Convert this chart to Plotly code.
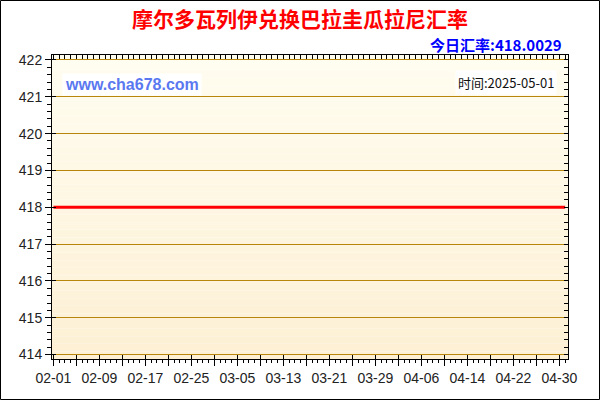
import pandas as pd
import plotly.graph_objects as go

# 摩尔多瓦列伊 -> 巴拉圭瓜拉尼, 2025-02-01 .. 2025-05-01 (daily)
start_date = "2025-02-01"
end_date = "2025-05-01"
rate_feb = [418.00, 418.00, 418.00, 418.00, 418.00, 418.00, 418.00, 418.00, 418.00, 418.00,
            418.00, 418.00, 418.00, 418.00, 418.00, 418.00, 418.00, 418.00, 418.00, 418.00,
            418.00, 418.00, 418.00, 418.00, 418.00, 418.00, 418.00, 418.00]
rate_mar = [418.00, 418.00, 418.00, 418.00, 418.00, 418.00, 418.00, 418.00, 418.00, 418.00,
            418.00, 418.00, 418.00, 418.00, 418.00, 418.00, 418.00, 418.00, 418.00, 418.00,
            418.00, 418.00, 418.00, 418.00, 418.00, 418.00, 418.00, 418.00, 418.00, 418.00,
            418.00]
rate_apr = [418.00, 418.00, 418.00, 418.00, 418.00, 418.00, 418.00, 418.00, 418.00, 418.00,
            418.00, 418.00, 418.00, 418.00, 418.00, 418.00, 418.00, 418.00, 418.00, 418.00,
            418.00, 418.00, 418.00, 418.00, 418.00, 418.00, 418.00, 418.00, 418.00, 418.00]
rate_may = [418.0029]

x_labels = ["02-01", "02-09", "02-17", "02-25", "03-05", "03-13",
            "03-21", "03-29", "04-06", "04-14", "04-22", "04-30"]

title_text = "摩尔多瓦列伊兑换巴拉圭瓜拉尼汇率"
today_text = "今日汇率:418.0029"
site_text = "www.cha678.com"
time_text = "时间:2025-05-01"

dates = pd.date_range(start_date, end_date, freq="D")
rates = rate_feb + rate_mar + rate_apr + rate_may

# major ticks every 4 days, only every 8th day gets a label
tick_pos = pd.date_range(start_date, "2025-04-30", freq="4D")
tick_txt = [d.strftime("%m-%d") if d.strftime("%m-%d") in x_labels else "" for d in tick_pos]

x_range = ["2025-01-31 18:00", "2025-05-01 12:00"]
y_range = [413.88, 422.135]

W, H = 600, 400
ML, MR, MT, MB = 52, 32, 55, 41
PW, PH = W - ML - MR, H - MT - MB

fig = go.Figure()

fig.add_trace(go.Scatter(
    x=dates, y=rates, mode="lines",
    line=dict(color="#ff0000", width=3),
    showlegend=False, hoverinfo="x+y"
))

# dummy traces so the overlay axes get drawn
for xa, ya in [("x2", "y"), ("x3", "y"), ("x", "y2"), ("x", "y3")]:
    fig.add_trace(go.Scatter(x=[dates[0]], y=[rates[0]], xaxis=xa, yaxis=ya,
                             mode="markers", marker=dict(opacity=0),
                             showlegend=False, hoverinfo="skip"))

# background gradient of the plot area
shapes = []
n = 40
top_c = (255, 253, 240)
bot_c = (253, 240, 212)
for i in range(n):
    t = i / (n - 1)
    c = tuple(round(top_c[k] + (bot_c[k] - top_c[k]) * t) for k in range(3))
    shapes.append(dict(type="rect", xref="x domain", yref="y domain",
                       x0=0, x1=1, y0=1 - (i + 1) / n, y1=1 - i / n,
                       fillcolor="rgb(%d,%d,%d)" % c, line_width=0, layer="below"))
# outer black frame of the image
shapes.append(dict(type="rect", xref="paper", yref="paper",
                   x0=-(ML - 0.5) / PW, x1=1 + (MR - 0.5) / PW,
                   y0=-(MB - 0.5) / PH, y1=1 + (MT - 0.5) / PH,
                   line=dict(color="black", width=1), fillcolor="rgba(0,0,0,0)"))

tick_font = dict(family="Liberation Sans, Arial, sans-serif", size=14, color="#222")

fig.update_layout(
    width=W, height=H, autosize=False,
    margin=dict(l=ML, r=MR, t=MT, b=MB, pad=0),
    paper_bgcolor="white", plot_bgcolor="rgba(0,0,0,0)",
    shapes=shapes,
    title=dict(text="<b>" + title_text + "</b>", x=0.5, xref="container", xanchor="center",
               y=1 - 20 / H, yref="container", yanchor="middle",
               font=dict(family="Noto Sans CJK SC", size=21, color="#ff0000")),
    xaxis=dict(type="date", range=x_range, tickvals=tick_pos, ticktext=tick_txt,
               ticks="outside", ticklen=6, tickcolor="black", tickwidth=1,
               minor=dict(dtick=86400000, tick0=start_date, ticks="outside", ticklen=3,
                          tickcolor="black", showgrid=False),
               showline=True, linecolor="black", linewidth=1, showgrid=False,
               zeroline=False, tickfont=tick_font, fixedrange=True),
    xaxis2=dict(type="date", range=x_range, overlaying="x", side="bottom", anchor="y",
                tickvals=tick_pos, ticks="inside", ticklen=4, tickcolor="black",
                showticklabels=False, showgrid=False, showline=False, zeroline=False),
    xaxis3=dict(type="date", range=x_range, overlaying="x", side="top", anchor="y",
                dtick=86400000, tick0=start_date, ticks="inside", ticklen=4,
                tickcolor="black", showticklabels=False, showgrid=False,
                showline=True, linecolor="black", linewidth=1, zeroline=False),
    yaxis=dict(range=y_range, dtick=1, tick0=414, ticks="outside", ticklen=6,
               tickcolor="black", tickwidth=1,
               minor=dict(dtick=0.2, tick0=414, ticks="outside", ticklen=4,
                          tickcolor="black", showgrid=False),
               showline=True, linecolor="black", linewidth=1,
               showgrid=True, gridcolor="#b8860b", gridwidth=1,
               zeroline=False, tickfont=tick_font, fixedrange=True),
    yaxis2=dict(range=y_range, overlaying="y", side="right", anchor="x",
                dtick=0.2, tick0=414, ticks="inside", ticklen=4, tickcolor="black",
                showticklabels=False, showgrid=False,
                showline=True, linecolor="black", linewidth=1, zeroline=False),
    yaxis3=dict(range=y_range, overlaying="y", side="left", anchor="x",
                dtick=1, tick0=414, ticks="inside", ticklen=4, tickcolor="black",
                showticklabels=False, showgrid=False, showline=False, zeroline=False),
    annotations=[
        dict(text="<b>" + today_text + "</b>", xref="paper", yref="paper",
             x=(564 - ML) / PW, y=1 + (MT - 44) / PH, xanchor="right", yanchor="middle",
             showarrow=False,
             font=dict(family="Noto Sans CJK SC", size=15, color="#0000ff")),
        dict(text="<b>" + site_text + "</b>", xref="paper", yref="paper",
             x=(62 - ML) / PW, y=1 - (84 - MT) / PH, xanchor="left", yanchor="middle",
             showarrow=False, bgcolor="white", borderpad=2,
             font=dict(family="Liberation Sans, Arial, sans-serif", size=16, color="#5a78f0")),
        dict(text=time_text, xref="paper", yref="paper",
             x=(557 - ML) / PW, y=1 - (82 - MT) / PH, xanchor="right", yanchor="middle",
             showarrow=False, bgcolor="white", borderpad=2,
             font=dict(family="Noto Sans CJK SC", size=13, color="#111")),
    ],
)

# the page body has a default 8px margin; drop it so the chart fills the window
fig.write_html("out.html", config={"displayModeBar": False},
               post_script="document.body.style.margin='0';")
